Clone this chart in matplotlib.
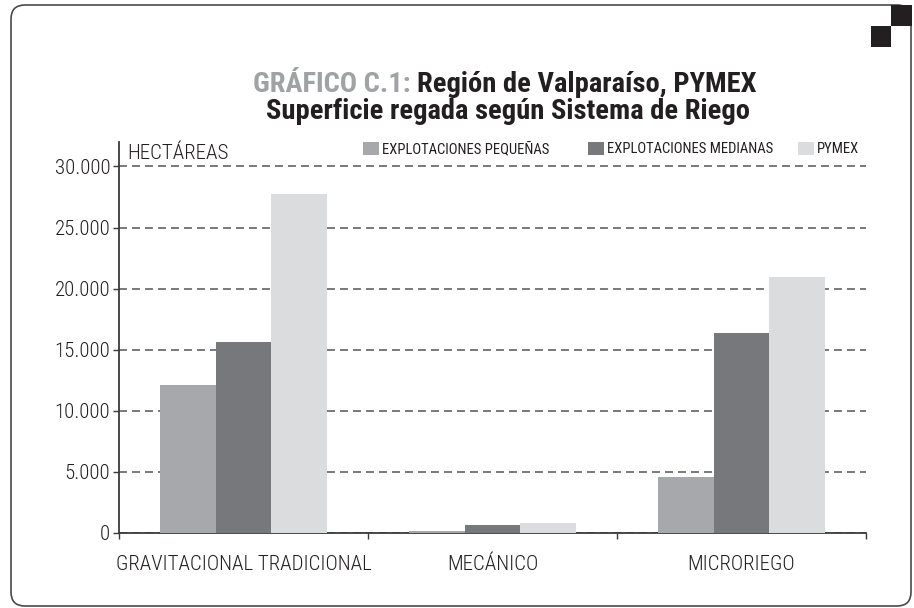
import matplotlib
matplotlib.use('Agg')
import matplotlib.pyplot as plt
from matplotlib.patches import FancyBboxPatch, Rectangle
from matplotlib.transforms import IdentityTransform
import numpy as np

# ---------------- data ----------------
categories = ["GRAVITACIONAL TRADICIONAL", "MECÁNICO", "MICRORIEGO"]
series_names = ["EXPLOTACIONES PEQUEÑAS", "EXPLOTACIONES MEDIANAS", "PYMEX"]
pequenas = [12100, 160, 4600]
medianas = [15650, 680, 16350]
pymex = [27750, 840, 20950]
yticks = [0, 5000, 10000, 15000, 20000, 25000, 30000]
ytick_labels = ["0", "5.000", "10.000", "15.000", "20.000", "25.000", "30.000"]
title_gray = "GRÁFICO C.1: "
title_black = "Región de Valparaíso, PYMEX"
title_line2 = "Superficie regada según Sistema de Riego"
y_label = "HECTÁREAS"

colors = ["#A7A8AB", "#77787C", "#DBDCDE"]
ink = '#231F20'

W, H, DPI = 914, 608, 100
plt.rcParams['font.family'] = ['Roboto Condensed', 'DejaVu Sans']

fig = plt.figure(figsize=(W / DPI, H / DPI), dpi=DPI)
fig.patch.set_facecolor('white')


def fx(px):
    return px / W


def fy(py):
    return 1 - py / H


ax = fig.add_axes([fx(119), fy(533), fx(866) - fx(119), fy(142) - fy(533)])

x = np.arange(len(categories))
bw = 0.223
series = [pequenas, medianas, pymex]
bars = []
for i, (vals, c, n) in enumerate(zip(series, colors, series_names)):
    b = ax.bar(x + (i - 1) * bw, vals, width=bw, color=c, label=n, zorder=3, linewidth=0)
    bars.append(b)

ax.set_xlim(-0.5, 2.5)
ax.set_ylim(0, 32000)
ax.set_yticks(yticks)
ax.set_yticklabels(ytick_labels)
ax.yaxis.grid(True, linestyle=(0, (4.4, 2.8)), color='#6e6e6e', linewidth=1.3, zorder=1)
ax.set_axisbelow(True)

for s in ['top', 'right']:
    ax.spines[s].set_visible(False)
for s in ['left', 'bottom']:
    ax.spines[s].set_color('#3a3a3a')
    ax.spines[s].set_linewidth(1.3)

ax.tick_params(axis='y', direction='out', length=4.3, width=1.0, color='#3a3a3a',
               labelsize=15, labelcolor=ink, pad=2)
for lab in ax.get_yticklabels():
    lab.set_fontweight('light')
ax.set_xticks([-0.5, 0.5, 1.5, 2.5])
ax.set_xticklabels([])
ax.set_xticks(x, minor=True)
ax.set_xticklabels(categories, minor=True, fontweight='light')
ax.tick_params(axis='x', which='major', direction='out', length=4.3, width=1.0, color='#3a3a3a')
ax.tick_params(axis='x', which='minor', length=0, labelsize=15, labelcolor=ink, pad=16)

ax.text(-0.468, 30600, y_label, fontsize=15, fontweight='light', color=ink, va='baseline', ha='left')

# legend: one entry per series at fixed positions
leg_x = [363, 588, 798]
for b, n, lx in zip(bars, series_names, leg_x):
    fig.legend([b], [n], loc='center left', bbox_to_anchor=(fx(lx), fy(149)),
               bbox_transform=fig.transFigure, frameon=False,
               prop={'size': 10.5, 'weight': 'normal'},
               borderpad=0, borderaxespad=0, handlelength=1.1, handleheight=0.96,
               handletextpad=0.2, labelcolor=ink)

# title
t1 = fig.text(0, fy(92), title_gray, fontsize=20.5, fontweight='bold', color='#A0A2A5',
              va='baseline', ha='left')
t2 = fig.text(0, fy(92), title_black, fontsize=20.5, fontweight='bold', color=ink,
              va='baseline', ha='left')
t3 = fig.text(fx(508), fy(119), title_line2, fontsize=20.5, fontweight='bold', color=ink,
              va='baseline', ha='center')
fig.canvas.draw()
r = fig.canvas.get_renderer()
w1 = t1.get_window_extent(r).width
w2 = t2.get_window_extent(r).width
start = 505 - (w1 + w2) / 2
t1.set_x(fx(start))
t2.set_x(fx(start + w1))

# frame and corner squares
frame = FancyBboxPatch((11, H - 606), 900, 601, boxstyle='round,pad=0,rounding_size=14',
                       transform=IdentityTransform(), facecolor='none', edgecolor='#4a4a4a',
                       linewidth=1.2, clip_on=False)
fig.add_artist(frame)
sq1 = Rectangle((891, H - 26), 21, 21, transform=IdentityTransform(), facecolor=ink,
                edgecolor='none', clip_on=False)
sq2 = Rectangle((871, H - 47), 20, 21, transform=IdentityTransform(), facecolor=ink,
                edgecolor='none', clip_on=False)
fig.add_artist(sq1)
fig.add_artist(sq2)

fig.savefig('out.png', dpi=DPI)
